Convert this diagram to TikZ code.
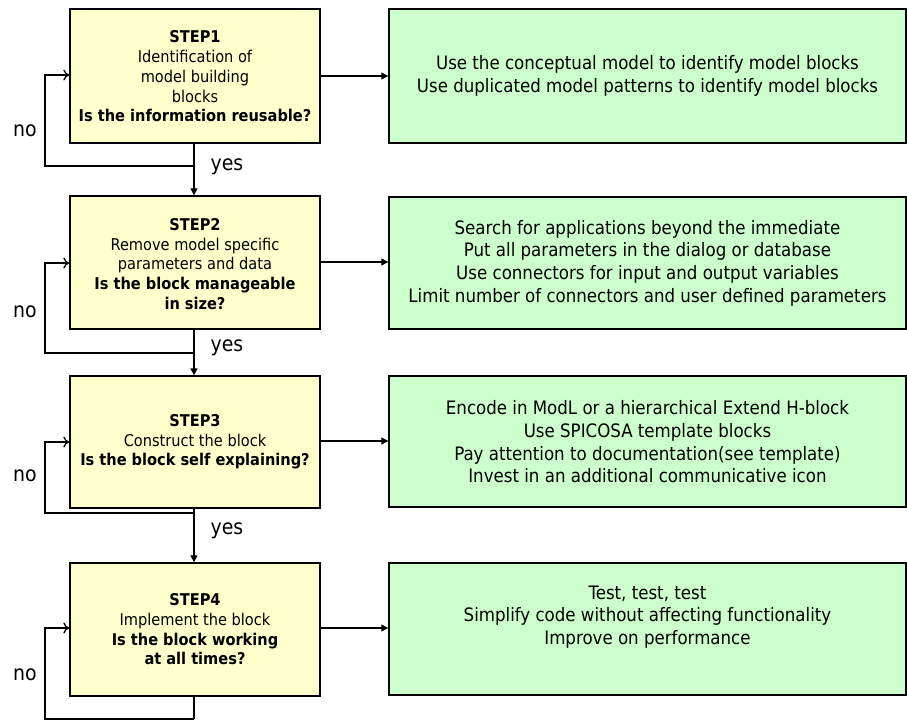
\documentclass[tikz,border=0pt]{standalone}
\usepackage{fontspec}
\setmainfont{DejaVu Sans Condensed}
\usetikzlibrary{arrows.meta}
\definecolor{ybox}{HTML}{FFFFCC}
\definecolor{gbox}{HTML}{CCFFCC}
\tikzset{
  yellowbox/.style={draw=black, line width=1.4pt, fill=ybox, minimum width=250pt, minimum height=134pt, inner sep=0pt},
  greenbox/.style={draw=black, line width=1.4pt, fill=gbox, minimum width=517pt, minimum height=134pt, inner sep=0pt},
  ytext/.style={align=center, font=\fontsize{16.2}{19.7}\selectfont, inner sep=0pt},
  gtext/.style={align=center, font=\fontsize{18.5}{22.7}\selectfont, inner sep=0pt},
  lbl/.style={font=\fontsize{21}{24}\selectfont, inner sep=0pt},
  flow/.style={line width=1.3pt, -{Triangle[length=7pt,width=7pt]}},
  back/.style={line width=1.3pt, -{To[length=6pt,width=11pt]}},
  side/.style={line width=1.3pt, -{Triangle[length=7pt,width=7pt]}},
}
\begin{document}
\begin{tikzpicture}[x=1pt,y=-1pt]
\useasboundingbox (0,0) rectangle (907,720);
% yellow boxes
\node[yellowbox, minimum height=134pt] (y1) at (195,76) {};
\node[yellowbox, minimum height=133pt] (y2) at (195,262.5) {};
\node[yellowbox, minimum height=132pt] (y3) at (195,442) {};
\node[yellowbox, minimum height=133pt] (y4) at (195,629.5) {};
% green boxes
\node[greenbox, minimum height=134pt] (g1) at (647.5,76) {};
\node[greenbox, minimum height=132pt] (g2) at (647.5,263) {};
\node[greenbox, minimum height=131pt] (g3) at (647.5,441.5) {};
\node[greenbox, minimum height=132pt] (g4) at (647.5,629) {};
% texts
\node[ytext] (t1) at (195,76.5) {\textbf{STEP1}\\Identification of\\model building\\blocks\\\textbf{Is the information reusable?}};
\node[ytext] (t2) at (195,264) {\textbf{STEP2}\\Remove model specific\\parameters and data\\\textbf{Is the block manageable}\\\textbf{in size?}};
\node[ytext] (t3) at (195,442) {\textbf{STEP3}\\Construct the block\\\textbf{Is the block self explaining?}};
\node[ytext] (t4) at (195,629.5) {\textbf{STEP4}\\Implement the block\\\textbf{Is the block working}\\\textbf{at all times?}};
\node[gtext] (u1) at (647.5,76) {Use the conceptual model to identify model blocks\\Use duplicated model patterns to identify model blocks};
\node[gtext] (u2) at (647.5,263) {Search for applications beyond the immediate\\Put all parameters in the dialog or database\\Use connectors for input and output variables\\Limit number of connectors and user defined parameters};
\node[gtext] (u3) at (647.5,442) {Encode in ModL or a hierarchical Extend H-block\\Use SPICOSA template blocks\\Pay attention to documentation(see template)\\Invest in an additional communicative icon};
\node[gtext] (u4) at (647.5,617) {Test, test, test\\Simplify code without affecting functionality\\Improve on performance};
% labels
\node[lbl] (n1) at (25,131) {no};
\node[lbl] (n2) at (25,312) {no};
\node[lbl] (n3) at (25,476) {no};
\node[lbl] (n4) at (25,675) {no};
\node[lbl] (s1) at (227,167) {yes};
\node[lbl] (s2) at (227,348) {yes};
\node[lbl] (s3) at (227,531) {yes};
% coordinates for loops
\coordinate (b1) at (194,166);
\coordinate (b2) at (194,353);
\coordinate (b3) at (194,513);
\coordinate (b4) at (194,719);
% vertical flow
\draw[flow] (y1.south -| b1) -- (y2.north -| b1);
\draw[flow] (y2.south -| b2) -- (y3.north -| b2);
\draw[flow] (y3.south -| b3) -- (y4.north -| b3);
\draw[line width=1.3pt] (y4.south -| b4) -- (b4);
% loops
\draw[back] (b1) -- (45,166) -- (45,75) -- (y1.west |- 0,75);
\draw[back] (b2) -- (45,353) -- (45,263) -- (y2.west |- 0,263);
\draw[back] (b3) -- (45,513) -- (45,442) -- (y3.west |- 0,442);
\draw[back] (b4) -- (45,719) -- (45,628) -- (y4.west |- 0,628);
% side arrows
\draw[side] (y1.east |- 0,76) -- (g1.west |- 0,76);
\draw[side] (y2.east |- 0,262) -- (g2.west |- 0,262);
\draw[side] (y3.east |- 0,441) -- (g3.west |- 0,441);
\draw[side] (y4.east |- 0,628) -- (g4.west |- 0,628);
\end{tikzpicture}
\end{document}
